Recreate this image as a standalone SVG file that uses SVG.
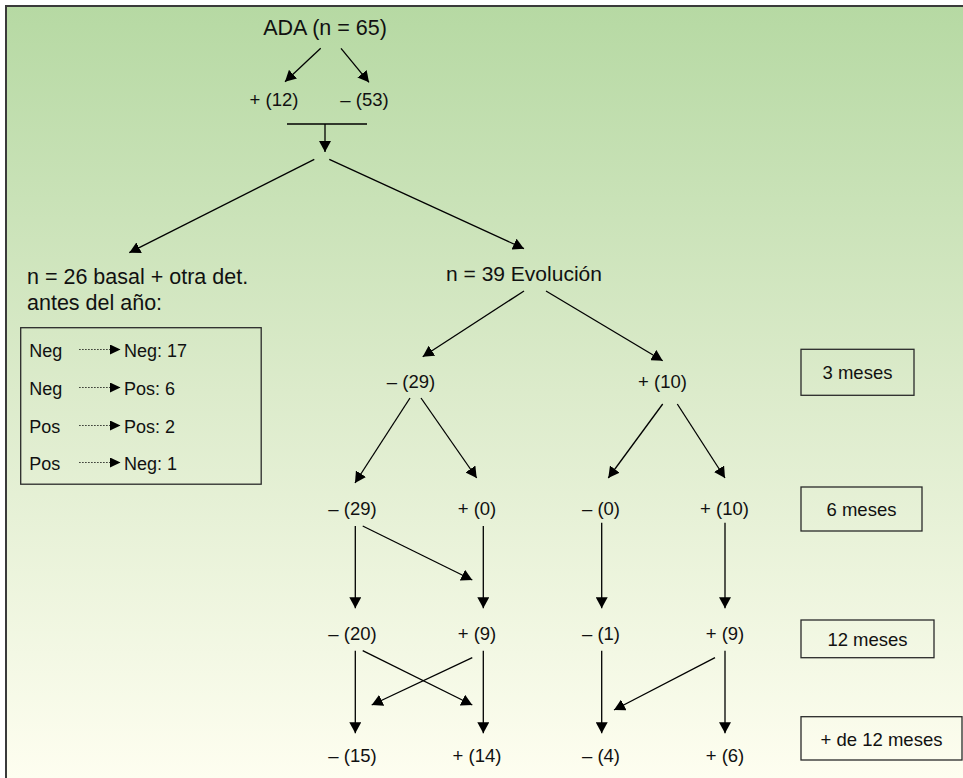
<svg xmlns="http://www.w3.org/2000/svg" width="963" height="778" viewBox="0 0 963 778">
<defs>
<linearGradient id="bg" x1="0" y1="0" x2="0" y2="1">
<stop offset="0" stop-color="#b6d9a3"/>
<stop offset="0.5" stop-color="#dcebcb"/>
<stop offset="1" stop-color="#fefef0"/>
</linearGradient>
<marker id="ah" markerUnits="userSpaceOnUse" markerWidth="12" markerHeight="12" refX="11" refY="6" orient="auto">
<path d="M0,0 L11,6 L0,12 z" fill="#000"/>
</marker>
<marker id="ahs" markerUnits="userSpaceOnUse" markerWidth="11" markerHeight="11" refX="10.5" refY="5" orient="auto">
<path d="M0,0 L10.5,5 L0,10 z" fill="#000"/>
</marker>
<style>
text{font-family:"Liberation Sans",Arial,sans-serif;fill:#111;}
.big{font-size:21.5px;}
.num{font-size:18.5px;text-anchor:middle;}
.lab{font-size:18.5px;text-anchor:middle;}
.sm{font-size:18px;}
.box{fill:none;stroke:#2a2a2a;stroke-width:1.3;}
.c line{stroke:#000;stroke-width:1.3;marker-end:url(#ah);}
.d line{stroke:#000;stroke-width:1.1;stroke-dasharray:1.2 1.8;marker-end:url(#ahs);}
</style>
</defs>
<rect x="0" y="0" width="963" height="778" fill="#fff"/>
<rect x="6" y="6" width="957" height="772" fill="url(#bg)"/>
<path d="M6,778 V6 H963" fill="none" stroke="#3a3a3a" stroke-width="2"/>

<g id="ada"><text class="big" x="325" y="35" text-anchor="middle">ADA (n = 65)</text></g>
<g id="pos12"><text class="num" x="274" y="106">+ (12)</text></g>
<g id="neg53"><text class="num" x="364.5" y="106">– (53)</text></g>

<g id="basal">
<text class="big" x="27" y="284">n = 26 basal + otra det.</text>
<text class="big" x="27" y="310">antes del año:</text>
</g>
<g id="tabla">
<rect class="box" x="20.7" y="327.7" width="240.5" height="156.5"/>
<text class="sm" x="29.3" y="357">Neg</text><text class="sm" x="124" y="357">Neg: 17</text>
<text class="sm" x="29.3" y="395">Neg</text><text class="sm" x="124" y="395">Pos: 6</text>
<text class="sm" x="29.3" y="433">Pos</text><text class="sm" x="124" y="433">Pos: 2</text>
<text class="sm" x="29.3" y="470">Pos</text><text class="sm" x="124" y="470">Neg: 1</text>
<g class="d">
<line x1="79.3" y1="349.5" x2="120.5" y2="349.5"/>
<line x1="79.3" y1="387.5" x2="120.5" y2="387.5"/>
<line x1="79.3" y1="425.5" x2="120.5" y2="425.5"/>
<line x1="79.3" y1="462.5" x2="120.5" y2="462.5"/>
</g>
</g>

<g id="evolucion"><text class="big" x="524" y="281" text-anchor="middle" style="font-size:21px">n = 39 Evolución</text></g>

<g id="m3neg29"><text class="num" x="411" y="388">– (29)</text></g>
<g id="m3pos10"><text class="num" x="662.5" y="388">+ (10)</text></g>

<g id="m6neg29"><text class="num" x="352.5" y="515">– (29)</text></g>
<g id="m6pos0"><text class="num" x="477" y="515">+ (0)</text></g>
<g id="m6neg0"><text class="num" x="601" y="515">– (0)</text></g>
<g id="m6pos10"><text class="num" x="724.5" y="515">+ (10)</text></g>

<g id="m12neg20"><text class="num" x="352.5" y="640">– (20)</text></g>
<g id="m12pos9a"><text class="num" x="477" y="640">+ (9)</text></g>
<g id="m12neg1"><text class="num" x="601" y="640">– (1)</text></g>
<g id="m12pos9b"><text class="num" x="725" y="640">+ (9)</text></g>

<g id="m12pneg15"><text class="num" x="352.5" y="762">– (15)</text></g>
<g id="m12ppos14"><text class="num" x="477" y="762">+ (14)</text></g>
<g id="m12pneg4"><text class="num" x="601" y="762">– (4)</text></g>
<g id="m12ppos6"><text class="num" x="725" y="762">+ (6)</text></g>

<g id="lab3"><rect class="box" x="801" y="349.3" width="113" height="46"/><text class="lab" x="857.5" y="379">3 meses</text></g>
<g id="lab6"><rect class="box" x="801" y="487" width="121" height="44"/><text class="lab" x="861.5" y="516">6 meses</text></g>
<g id="lab12"><rect class="box" x="801" y="620" width="133" height="37.7"/><text class="lab" x="867.5" y="645.5">12 meses</text></g>
<g id="lab12p"><rect class="box" x="801" y="716.7" width="161" height="43.3"/><text class="lab" x="881.5" y="745.5">+ de 12 meses</text></g>

<g id="connectors" class="c">
<line x1="320.7" y1="48.3" x2="285" y2="81.7"/>
<line x1="341" y1="48.3" x2="369" y2="82.3"/>
<line x1="287" y1="124" x2="367" y2="124" style="marker-end:none"/>
<line x1="325" y1="124" x2="325" y2="152"/>
<line x1="314.3" y1="159.3" x2="129.3" y2="252.7"/>
<line x1="329.3" y1="159.3" x2="524" y2="248.7"/>
<line x1="524" y1="291" x2="422.7" y2="356.7"/>
<line x1="546" y1="291" x2="662.7" y2="360.7"/>
<line x1="410" y1="398" x2="355" y2="483"/>
<line x1="421" y1="398" x2="476.7" y2="478"/>
<line x1="662.7" y1="404" x2="608.3" y2="478"/>
<line x1="677.3" y1="404" x2="725" y2="478"/>
<line x1="355.3" y1="526" x2="355.3" y2="608.3"/>
<line x1="483.3" y1="526" x2="483.3" y2="608.3"/>
<line x1="601.7" y1="522.7" x2="601.7" y2="608.3"/>
<line x1="725" y1="522.7" x2="725" y2="608.3"/>
<line x1="362.7" y1="526" x2="472.3" y2="580"/>
<line x1="355.3" y1="650.7" x2="355.3" y2="733.3"/>
<line x1="483.3" y1="650.7" x2="483.3" y2="733.3"/>
<line x1="601.7" y1="650.7" x2="601.7" y2="733.3"/>
<line x1="725" y1="650.7" x2="725" y2="733.3"/>
<line x1="362.7" y1="650.7" x2="472.3" y2="705"/>
<line x1="472.3" y1="657.7" x2="371.7" y2="705"/>
<line x1="715" y1="657.7" x2="614" y2="710"/>
</g>
</svg>
